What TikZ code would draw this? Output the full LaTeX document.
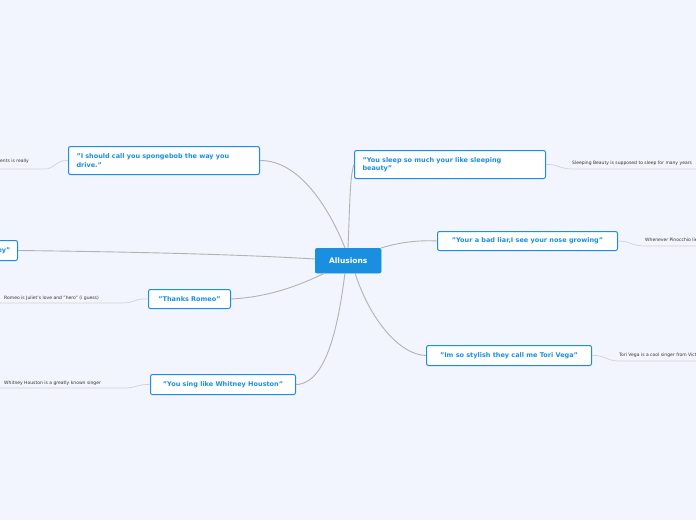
\documentclass[tikz,border=0pt]{standalone}
\usepackage{fontspec}
\setmainfont{DejaVu Sans}
\begin{document}
\begin{tikzpicture}[x=1pt,y=-1pt,
  topic/.style={draw=blue2,line width=1pt,fill=white,rounded corners=2pt,font=\bfseries\fontsize{6.5}{8.5}\selectfont,text=blue2,align=left,inner xsep=7pt,inner ysep=4pt,anchor=north west},
  leaf/.style={font=\fontsize{4.5}{5}\selectfont,text=black!80,inner sep=1pt},
  conn/.style={draw=gray!60,line width=0.9pt},
  lconn/.style={draw=gray!35,line width=0.7pt}]
\definecolor{blue2}{HTML}{1A8FE0}
\definecolor{bg}{HTML}{F2F5FD}
\clip (0,0) rectangle (696,520);
\fill[bg] (0,0) rectangle (696,520);
% central
\node[fill=blue2,draw=blue2,rounded corners=2pt,minimum width=66pt,minimum height=25pt,text=white,font=\bfseries\fontsize{7.5}{8}\selectfont,anchor=north west] (c) at (315,248) {Allusions};
% topics
\node[topic,minimum width=191pt,minimum height=28pt,text width=175pt] (sb) at (68,146) {"I should call you spongebob the way you\\drive."};
\node[topic,minimum width=191pt,minimum height=28pt,text width=175pt] (sl) at (354,150) {"You sleep so much your like sleeping\\beauty"};
\node[topic,minimum width=180pt,minimum height=19pt] (li) at (437,231) {"Your a bad liar,I see your nose growing"};
\node[topic,minimum width=165pt,minimum height=20pt] (tv) at (426,345) {"Im so stylish they call me Tori Vega"};
\node[topic,minimum width=82pt,minimum height=19pt] (ro) at (148,289) {"Thanks Romeo"};
\node[topic,minimum width=145pt,minimum height=20pt] (wh) at (150,374) {"You sing like Whitney Houston"};
\node[topic,anchor=north east,minimum height=20pt] (hy) at (18,240) {"Hey"};
% leaves
\node[leaf,anchor=south east] (l1) at (30,165) {The parents is really};
\node[leaf,anchor=south west] (l2) at (3,302) {Romeo is Juliet's love and "hero" (i guess)};
\node[leaf,anchor=south west] (l3) at (3,387) {Whitney Houston is a greatly known singer};
\node[leaf,anchor=south west] (l4) at (571,167) {Sleeping Beauty is supposed to sleep for many years};
\node[leaf,anchor=south west] (l5) at (644,244) {Whenever Pinocchio lies his nose grows};
\node[leaf,anchor=south west] (l6) at (618,359) {Tori Vega is a cool singer from Victorious};
% main connectors
\draw[conn] (sb.east) .. controls (300,160) and (330,210) .. (345,248);
\draw[conn] (348,248) .. controls (350,200) and (350,175) .. (sl.west);
\draw[conn] (381,248) .. controls (400,242) and (420,240) .. (li.west);
\draw[conn] (355,273) .. controls (370,320) and (400,355) .. (tv.west);
\draw[conn] (ro.east) .. controls (270,297) and (300,285) .. (325,273);
\draw[conn] (wh.east) .. controls (330,384) and (340,310) .. (345,273);
\draw[conn] (hy.east) .. controls (150,252) and (250,255) .. (315,259);
% leaf connectors
\draw[lconn] (sb.west) .. controls (55,160) and (55,169) .. (45,169) -- (0,169);
\draw[lconn] (ro.west) .. controls (135,298) and (135,303) .. (122,303) -- (0,303);
\draw[lconn] (wh.west) .. controls (137,384) and (137,388) .. (124,388) -- (0,388);
\draw[lconn] (sl.east) .. controls (558,164) and (560,169) .. (572,169) -- (696,169);
\draw[lconn] (li.east) .. controls (630,241) and (632,246) .. (645,246) -- (696,246);
\draw[lconn] (tv.east) .. controls (605,355) and (607,361) .. (619,361) -- (696,361);
\end{tikzpicture}
\end{document}
